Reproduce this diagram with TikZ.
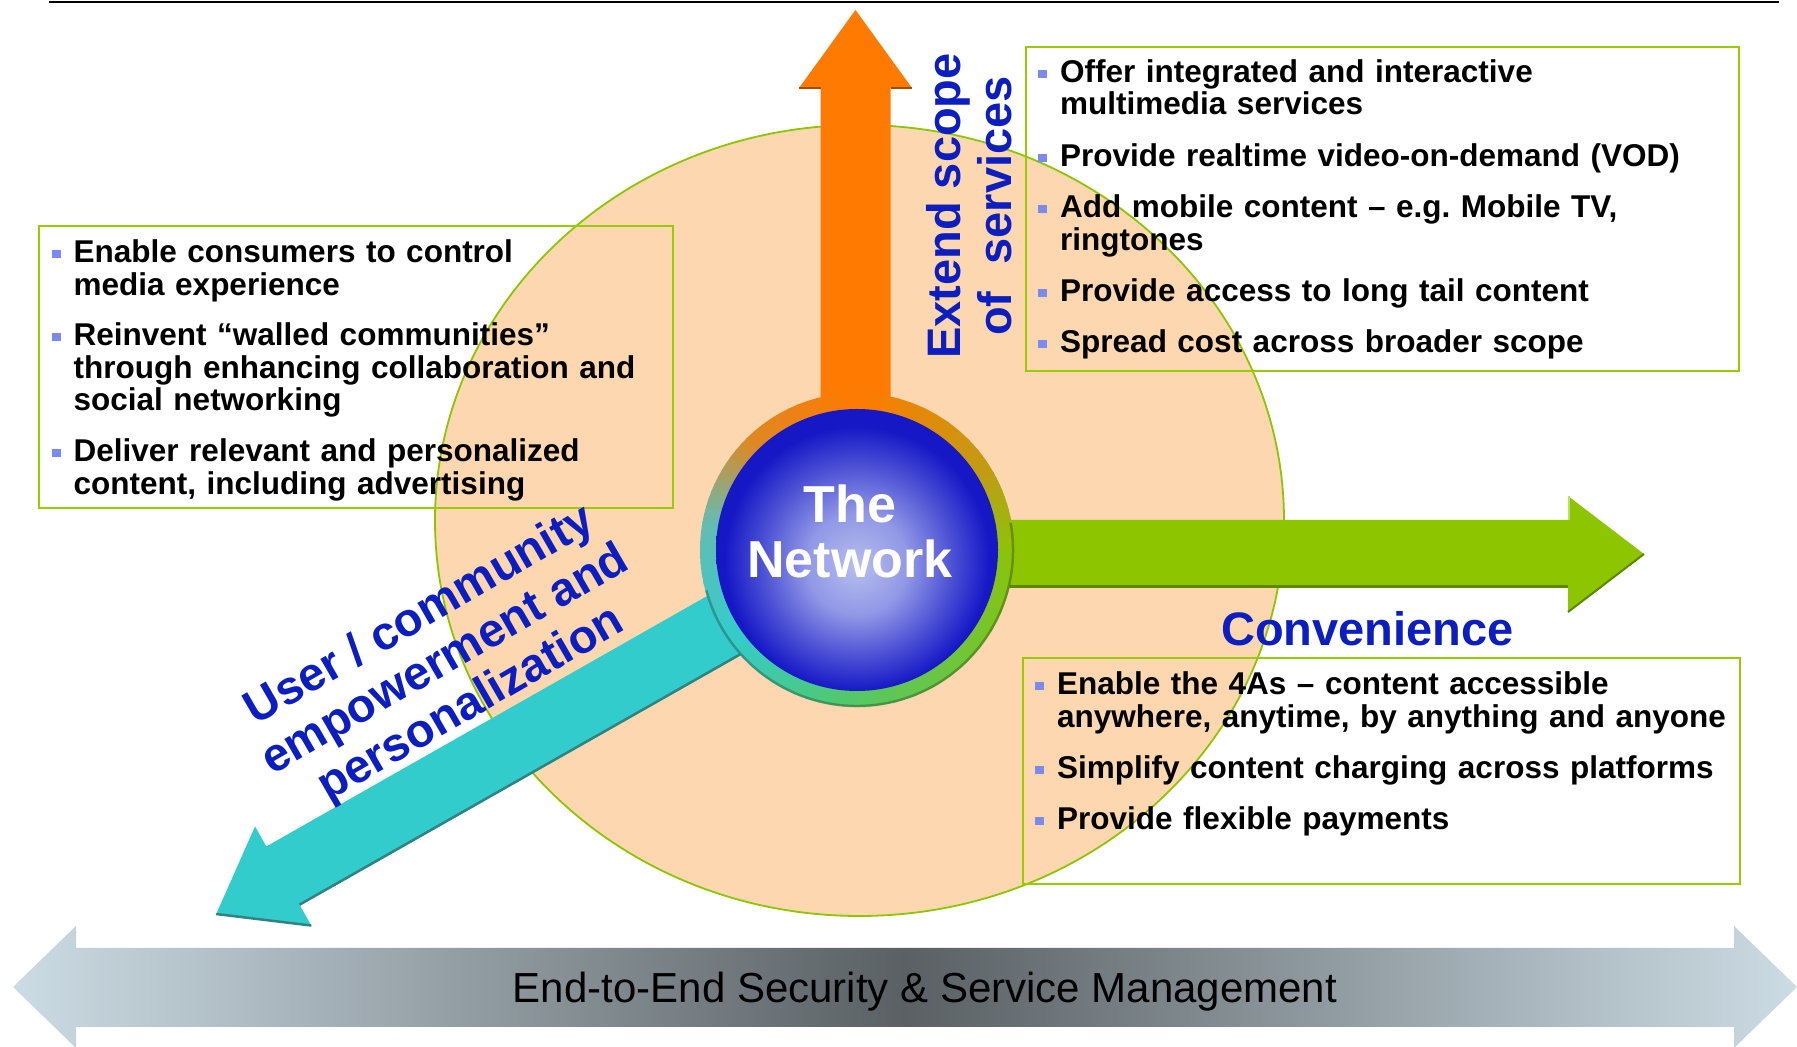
\documentclass[tikz,border=0pt]{standalone}
\usepackage{fontspec}
\setmainfont{Liberation Sans}
\usetikzlibrary{calc}
\frenchspacing

\definecolor{peach}{RGB}{253,215,176}
\definecolor{edgegreen}{RGB}{140,198,0}
\definecolor{boxgreen}{RGB}{153,204,0}
\definecolor{bulletc}{RGB}{122,138,240}
\definecolor{labelblue}{RGB}{12,30,192}
\definecolor{orangec}{RGB}{255,122,0}
\definecolor{orangedark}{RGB}{170,75,0}
\definecolor{greenc}{RGB}{141,198,0}
\definecolor{greendark}{RGB}{92,135,0}
\definecolor{greenlight}{RGB}{185,225,100}
\definecolor{tealc}{RGB}{51,204,204}
\definecolor{tealdark}{RGB}{50,130,130}
\definecolor{barlight}{RGB}{204,220,228}
\definecolor{bardark}{RGB}{90,96,100}
\definecolor{sphlight}{RGB}{182,190,238}
\definecolor{sphsoft}{RGB}{145,152,230}
\definecolor{sphmid}{RGB}{75,80,212}
\definecolor{sphdark}{RGB}{22,24,198}
% ring colours, clockwise from the top
\definecolor{rOrange}{RGB}{255,122,0}
\definecolor{rOlive}{RGB}{190,158,20}
\definecolor{rLime}{RGB}{140,195,10}
\definecolor{rGreen}{RGB}{85,200,100}
\definecolor{rTeal}{RGB}{51,204,204}
\definecolor{rGrey}{RGB}{100,188,178}
\definecolor{rBrown}{RGB}{222,136,36}

% the path's edge sits at 25bp from the centre of a path shading
\pgfdeclareradialshading{sphereshade}{\pgfpoint{0bp}{-3bp}}{%
  color(0bp)=(sphlight); color(9bp)=(sphsoft); color(17bp)=(sphmid);
  color(23.5bp)=(sphdark); color(50bp)=(sphdark)}

% small square bullet hanging left of an item
\newcommand\sqb{\leavevmode\llap{\textcolor{bulletc}{\rule[4.5pt]{9pt}{8pt}}\hspace{13pt}}}

% one stretch of the coloured ring, blended from #3 to #4
\newcommand\ringpart[4]{%
  \foreach \k in {0,...,11}{%
    \pgfmathsetmacro\ra{#1+(#2-#1)*\k/12}%
    \pgfmathsetmacro\rb{#1+(#2-#1)*(\k+1.2)/12}%
    \pgfmathtruncatemacro\rp{100*(\k+0.5)/12}%
    \colorlet{ringc}{#4!\rp!#3}%
    \fill[ringc] ($(hub)+(\ra:157)$) arc[start angle=\ra, end angle=\rb, radius=157]
      -- ($(hub)+(\rb:139)$) arc[start angle=\rb, end angle=\ra, radius=139] -- cycle;
  }}

\tikzset{
  infobox/.style={draw=boxgreen, line width=2pt, rectangle, inner sep=0pt},
  itemtxt/.style={anchor=base west, inner sep=0pt, text width=700pt, align=left,
    font=\fontsize{31.5}{32.5}\selectfont\bfseries},
  bluelabel/.style={inner sep=0pt, align=center, text=labelblue,
    font=\fontsize{47}{51}\selectfont\bfseries},
}

\begin{document}
\begin{tikzpicture}[x=1pt, y=1pt]
\useasboundingbox (0,0) rectangle (1797,1047);
\fill[white] (0,0) rectangle (1797,1047);

% rule along the top
\draw[line width=2.5pt] (49,1045) -- (1779,1045);

% peach disc behind everything
\draw[fill=peach, draw=edgegreen, line width=1.8pt] (859.5,526.5) ellipse [x radius=424.5, y radius=395.5];

% text frames
\node[infobox, minimum width=634pt, minimum height=282pt] (lbox) at (356,680) {};
\node[infobox, minimum width=713pt, minimum height=324pt] (sbox) at (1382.5,838) {};
\node[infobox, minimum width=717pt, minimum height=226pt] (cbox) at (1381.5,276) {};

\coordinate (hub) at (857,497);

% orange arrow: extend scope of services
\begin{scope}[shift={(855.5,497)}, rotate=90]
  \fill[orangec] (0,-35) -- (462,-35) -- (462,-56.5) -- (540,0) -- (462,56.5) -- (462,35) -- (0,35) -- cycle;
  \draw[orangedark, line width=2pt] (462,-56.5) -- (462,-35) (462,35) -- (462,56.5);
\end{scope}

% green arrow: convenience
\begin{scope}[shift={(857,493)}]
  \fill[greenc] (0,-34) -- (711,-34) -- (711,-58) -- (787,0) -- (711,58) -- (711,34) -- (0,34) -- cycle;
  \draw[greendark, line width=3pt] (0,-32.5) -- (711,-32.5);
  \draw[greendark, line width=2pt] (711,-58) -- (787,0);
  \draw[greenlight, line width=2pt] (712,58) -- (712,34);
\end{scope}

% teal arrow: user / community empowerment
\begin{scope}[shift={(hub)}, rotate=209.6]
  \fill[tealc] (0,-34) -- (660,-34) -- (660,-57) -- (737,0) -- (660,57) -- (660,34) -- (0,34) -- cycle;
  \draw[tealdark, line width=2.5pt] (0,33) -- (660,33) (660,57) -- (737,0);
\end{scope}

% coloured ring round the hub
\ringpart{90}{30}{rOrange}{rOlive}
\ringpart{30}{0}{rOlive}{rLime}
\ringpart{0}{-90}{rLime}{rGreen}
\ringpart{-90}{-145}{rGreen}{rTeal}
\ringpart{-145}{-190}{rTeal}{rGrey}
\ringpart{-190}{-225}{rGrey}{rBrown}
\ringpart{-225}{-270}{rBrown}{rOrange}
\draw[black, opacity=0.25, line width=2.5pt] ($(hub)+(-165:156)$) arc[start angle=-165, end angle=10, radius=156];

% the blue sphere
\node[circle, minimum size=282pt, inner sep=0pt, shade, shading=sphereshade] (net) at (hub) {};
\node[inner sep=0pt, align=center, text=white, font=\fontsize{52}{55}\selectfont\bfseries] (nettxt) at (850,515.5) {The\\Network};

% axis labels
\node[bluelabel, rotate=90] (scopelbl) at (969,841) {Extend scope\\of\hspace{27pt}services};
\node[bluelabel, anchor=base] (convlbl) at (1367.5,401) {Convenience};
\node[bluelabel, rotate=30] (userlbl) at (446,386) {User / community\\empowerment and\\personalization};

% left list
\node[itemtxt] (l1) at (73.5,784) {\sqb Enable consumers to control\\media experience};
\node[itemtxt] (l2) at (73.5,701) {\sqb Reinvent “walled communities”\\through enhancing collaboration and\\social networking};
\node[itemtxt] (l3) at (73.5,585) {\sqb Deliver relevant and personalized\\content, including advertising};

% services list
\node[itemtxt] (s1) at (1060,964.5) {\sqb Offer integrated and interactive\\multimedia services};
\node[itemtxt] (s2) at (1060,880) {\sqb Provide realtime video-on-demand (VOD)};
\node[itemtxt] (s3) at (1060,829) {\sqb Add mobile content – e.g. Mobile TV,\\ringtones};
\node[itemtxt] (s4) at (1060,745) {\sqb Provide access to long tail content};
\node[itemtxt] (s5) at (1060,694) {\sqb Spread cost across broader scope};

% convenience list
\node[itemtxt] (c1) at (1057,352) {\sqb Enable the 4As – content accessible\\anywhere, anytime, by anything and anyone};
\node[itemtxt] (c2) at (1057,268) {\sqb Simplify content charging across platforms};
\node[itemtxt] (c3) at (1057,217) {\sqb Provide flexible payments};

% double-headed bar along the bottom
\shade[left color=barlight, right color=barlight, middle color=bardark]
  (13,60) -- (76,121) -- (76,99) -- (1734,99) -- (1734,121) -- (1797,60)
  -- (1734,-1) -- (1734,20) -- (76,20) -- (76,-1) -- cycle;
\node[inner sep=0pt, anchor=base, font=\fontsize{42}{46}\selectfont] (secmgmt) at (925,44) {End-to-End Security \& Service Management};
\end{tikzpicture}
\end{document}
